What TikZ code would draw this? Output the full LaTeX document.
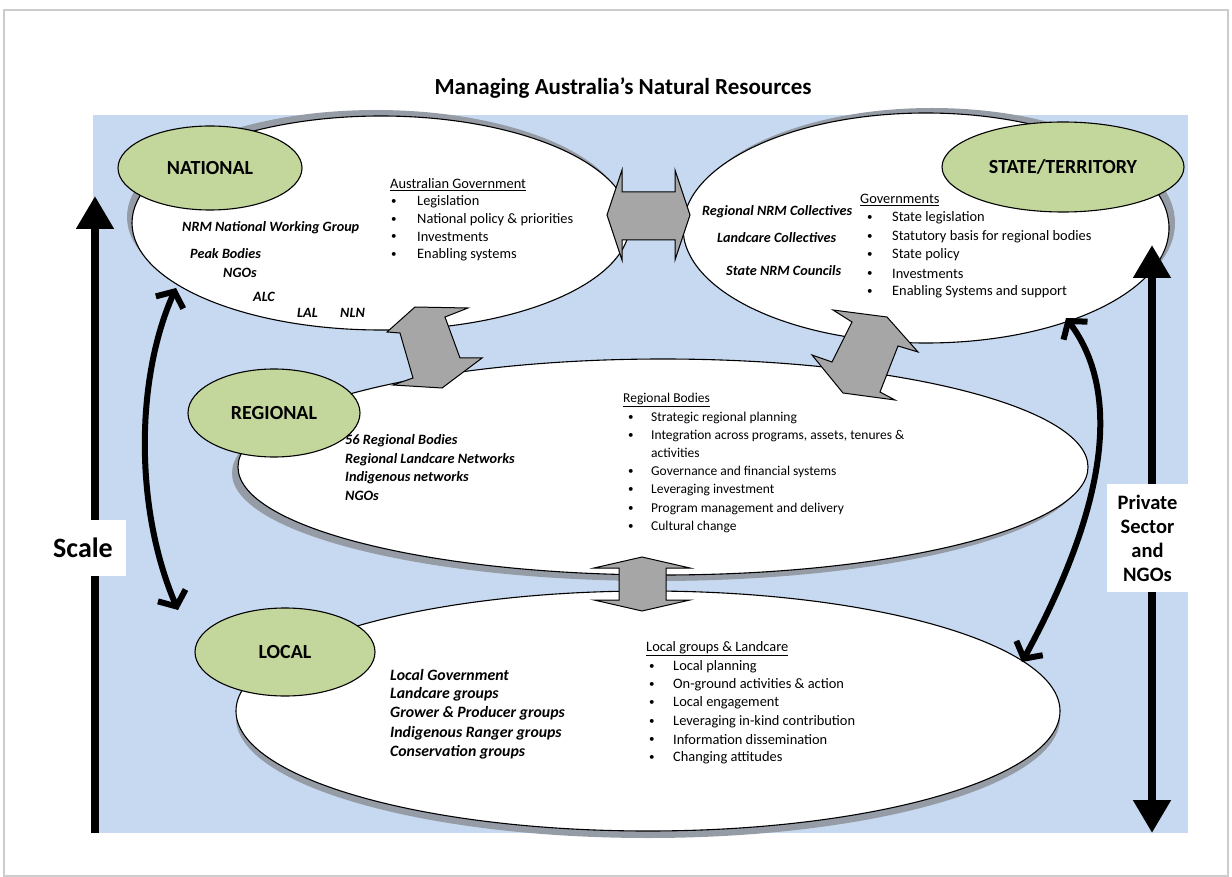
\documentclass[tikz,border=0pt]{standalone}
\usepackage{fontspec}
\setmainfont{Carlito}
\usetikzlibrary{shapes.geometric,shadows,arrows.meta}
\definecolor{skyback}{RGB}{198,217,240}
\definecolor{tagolive}{RGB}{195,214,155}
\definecolor{blockgray}{RGB}{166,166,166}
\definecolor{shadegray}{RGB}{150,156,166}
\tikzset{levelbox/.style={ellipse,draw,line width=1.1pt,fill=white,inner sep=0pt},
leveltag/.style={ellipse,draw,line width=1.1pt,fill=tagolive,inner sep=0pt,font=\fontsize{20}{22}\selectfont\bfseries},
blockarrow/.style={draw,line width=1pt,fill=blockgray,line join=miter},
member/.style={anchor=west,inner sep=0pt,font=\fontsize{14.2}{16}\selectfont\bfseries\itshape},
roleitem/.style={anchor=west,inner sep=0pt,font=\fontsize{14.4}{16}\selectfont},
roledot/.style={anchor=west,inner sep=0pt,font=\fontsize{11}{12}\selectfont},
bigarrow/.style={line width=8pt},
swingarrow/.style={line width=6pt,line cap=round,{Straight Barb[length=12pt,width=30pt]}-{Straight Barb[length=12pt,width=30pt]}},
sidebox/.style={fill=white,inner sep=0pt,font=\fontsize{20.5}{24}\selectfont\bfseries,align=center}}

\begin{document}
\begin{tikzpicture}[x=1pt,y=-1pt]
\useasboundingbox (0,0) rectangle (1232,877);

% frame and background
\draw[gray!40,line width=1.2pt] (4,10) rectangle (1228,876);
\fill[skyback] (93,115) rectangle (1188,833);
\node[font=\fontsize{23}{25}\selectfont\bfseries] (title) at (623,88) {Managing Australia’s Natural Resources};

% level ellipses
\node[levelbox,minimum width=498pt,minimum height=214pt,drop shadow={shadow xshift=-5pt,shadow yshift=6pt,fill=shadegray,opacity=1}] (nat) at (381,223) {};
\node[levelbox,minimum width=486pt,minimum height=230pt,drop shadow={shadow xshift=6pt,shadow yshift=5pt,fill=shadegray,opacity=1}] (state) at (926,228) {};
\node[levelbox,minimum width=850pt,minimum height=216pt,drop shadow={shadow xshift=-6pt,shadow yshift=-6pt,fill=shadegray,opacity=1}] (reg) at (663,467) {};
\node[levelbox,minimum width=824pt,minimum height=240pt,drop shadow={shadow xshift=0pt,shadow yshift=-7pt,fill=shadegray,opacity=1}] (loc) at (648,711) {};

% level tags
\node[leveltag,minimum width=184pt,minimum height=84pt] (nattag) at (210,168) {NATIONAL};
\node[leveltag,minimum width=242pt,minimum height=90pt] (statetag) at (1063,167) {STATE/TERRITORY};
\node[leveltag,minimum width=172pt,minimum height=88pt] (regtag) at (274,413) {REGIONAL};
\node[leveltag,minimum width=180pt,minimum height=88pt] (loctag) at (285,652) {LOCAL};

% block arrows between levels
\draw[blockarrow] (607,215) -- (622,170) -- (622,192) -- (675,192) -- (675,170) -- (690,215)
  -- (675,260) -- (675,240) -- (622,240) -- (622,260) -- cycle;
\draw[blockarrow] (387,332) -- (415,307) -- (468,308) -- (445,317) -- (460,358) -- (482,358)
  -- (442,388) -- (393,385) -- (413,378) -- (400,333) -- cycle;
\draw[blockarrow] (833,310) -- (887,317) -- (918,352) -- (898,346) -- (880,392) -- (895,400)
  -- (843,393) -- (812,355) -- (832,362) -- (852,322) -- cycle;
\draw[blockarrow] (642,557) -- (690,568) -- (666,568) -- (666,600) -- (690,600) -- (642,611)
  -- (594,600) -- (619,600) -- (619,568) -- (594,568) -- cycle;

% curved arrows
\coordinate (natgrip) at (176,288);
\coordinate (locgrip) at (178,610);
\coordinate (stategrip) at (1066,318);
\coordinate (locgrip2) at (1022,662);
\draw[swingarrow] (natgrip) .. controls (135,380) and (135,510) .. (locgrip);
\draw[swingarrow] (stategrip) .. controls (1120,390) and (1110,500) .. (locgrip2);

% scale arrows
\coordinate (scalefoot) at (95,833);
\coordinate (scaletop) at (95,196);
\coordinate (sectortop) at (1152,245);
\coordinate (sectorfoot) at (1152,833);
\draw[bigarrow,-{Triangle[length=33pt,width=36pt]}] (scalefoot) -- (scaletop);
\draw[bigarrow,{Triangle[length=33pt,width=36pt]}-{Triangle[length=33pt,width=36pt]}] (sectortop) -- (sectorfoot);
\node[sidebox,font=\fontsize{28}{30}\selectfont\bfseries,minimum width=86pt,minimum height=56pt] (scalebox) at (83,548) {Scale};
\node[sidebox,minimum width=81pt,minimum height=108pt] (sectorbox) at (1147.5,538) {Private\\Sector\\and\\NGOs};

% national
\foreach \xx/\yy/\txt [count=\k] in {182/228/NRM National Working Group,190/254/Peak Bodies,223/273/NGOs,253/297/ALC,297/313/LAL,340/313/NLN}
  \node[member] (natwho\k) at (\xx,\yy) {\txt};
\node[roleitem] (nathead) at (390,185) {\underline{Australian Government}};
\foreach \yy/\txt [count=\k] in {202/Legislation,220/National policy \& priorities,237/Investments,255/Enabling systems}{
  \node[roledot] (natdot\k) at (391,\yy) {\textbullet};
  \node[roleitem] (natrole\k) at (417,\yy) {\txt};
}

% state
\foreach \xx/\yy/\txt [count=\k] in {702/212/Regional NRM Collectives,717/238/Landcare Collectives,726/271/State NRM Councils}
  \node[member] (statewho\k) at (\xx,\yy) {\txt};
\node[roleitem] (statehead) at (860,200) {\underline{Governments}};
\foreach \yy/\txt [count=\k] in {218/State legislation,237/Statutory basis for regional bodies,255/State policy,274/Investments,292/Enabling Systems and support}{
  \node[roledot] (statedot\k) at (867,\yy) {\textbullet};
  \node[roleitem] (staterole\k) at (892,\yy) {\txt};
}

% regional
\foreach \yy/\txt [count=\k] in {441/56 Regional Bodies,460/Regional Landcare Networks,478/Indigenous networks,496/NGOs}
  \node[member,font=\fontsize{14.3}{16}\selectfont\bfseries\itshape] (regwho\k) at (345,\yy) {\txt};
\node[roleitem,font=\fontsize{13.5}{15}\selectfont] (reghead) at (623,400) {\underline{Regional Bodies}};
\foreach \yy/\txt [count=\k] in {418/Strategic regional planning,436/{Integration across programs, assets, tenures \&},472/Governance and financial systems,490/Leveraging investment,509/Program management and delivery,527/Cultural change}{
  \node[roledot] (regdot\k) at (628,\yy) {\textbullet};
  \node[roleitem,font=\fontsize{13.5}{15}\selectfont] (regrole\k) at (651,\yy) {\txt};
}
\node[roleitem,font=\fontsize{13.5}{15}\selectfont] (regrolewrap) at (651,453) {activities};

% local
\foreach \yy/\txt [count=\k] in {675/Local Government,694/Landcare groups,713/Grower \& Producer groups,733/Indigenous Ranger groups,752/Conservation groups}
  \node[member,font=\fontsize{15.8}{17}\selectfont\bfseries\itshape] (locwho\k) at (390,\yy) {\txt};
\node[roleitem] (lochead) at (646,649) {\underline{Local groups \& Landcare}};
\foreach \yy/\txt [count=\k] in {667/Local planning,685/On-ground activities \& action,703/Local engagement,722/Leveraging in-kind contribution,740/Information dissemination,758/Changing attitudes}{
  \node[roledot] (locdot\k) at (649,\yy) {\textbullet};
  \node[roleitem] (locrole\k) at (673,\yy) {\txt};
}
\end{tikzpicture}
\end{document}
